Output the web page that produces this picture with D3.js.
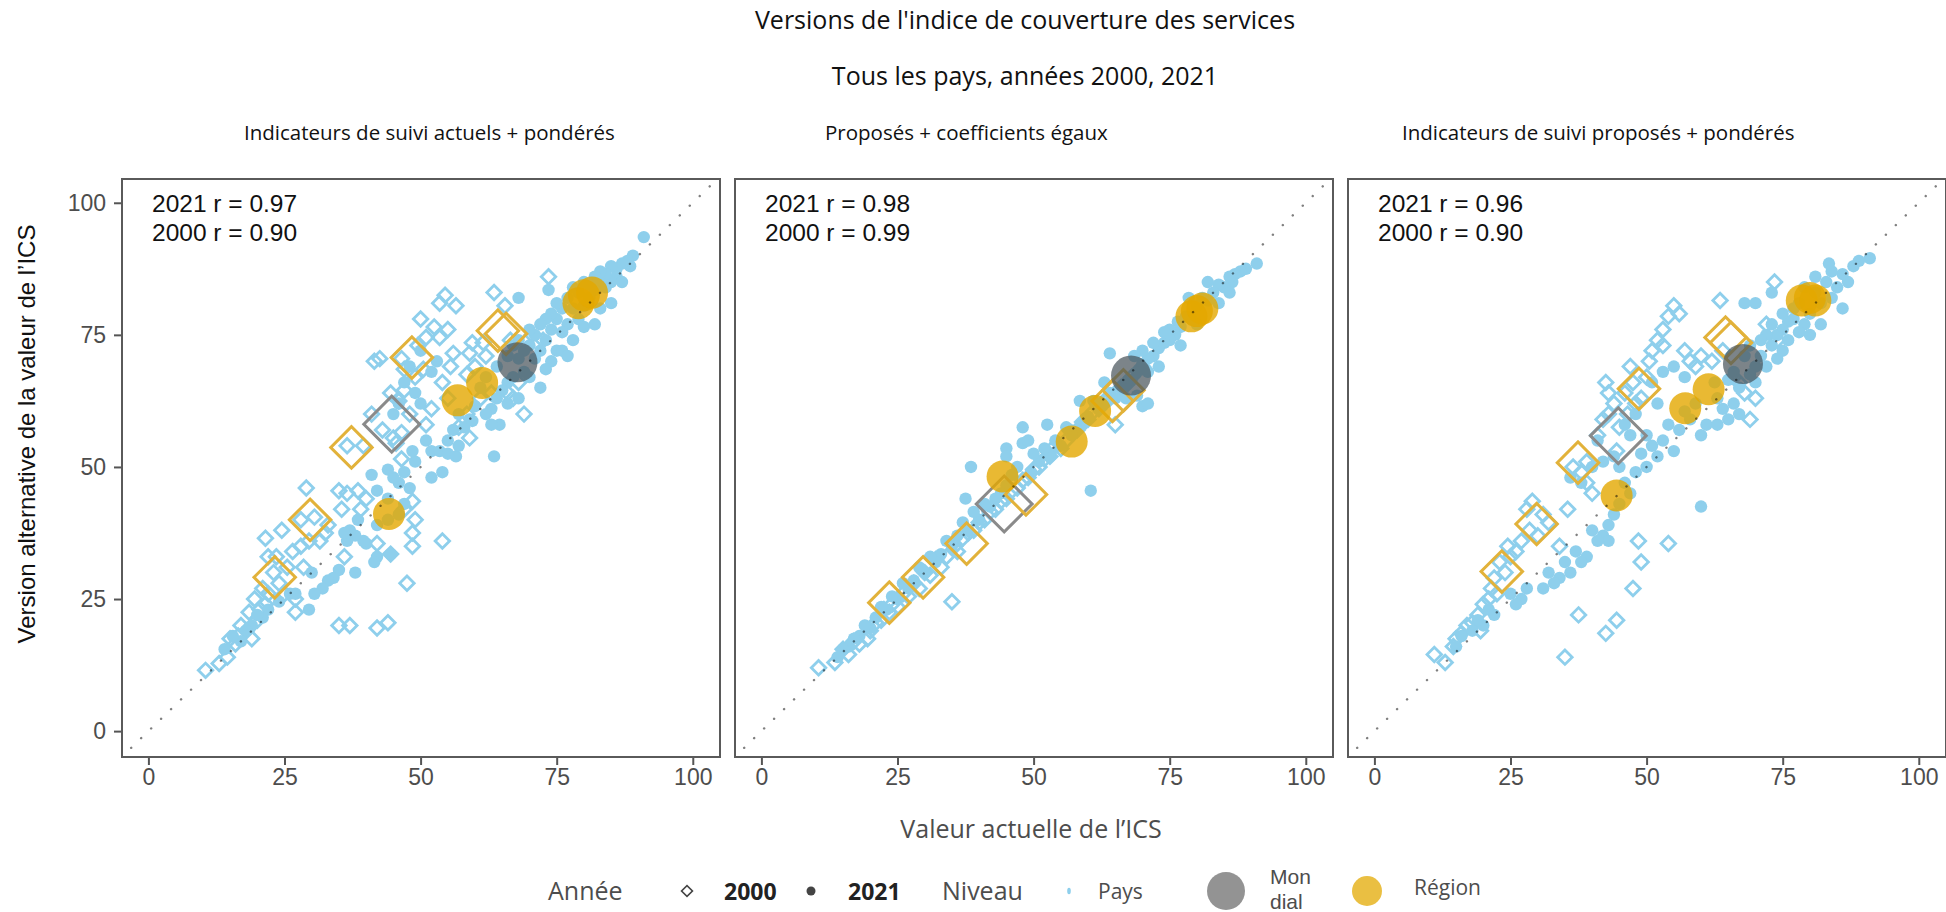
<!DOCTYPE html>
<html>
<head>
<meta charset="utf-8">
<script src="https://cdn.jsdelivr.net/npm/d3@7"></script>
<style>
  html, body { margin: 0; padding: 0; background: #fff; }
  svg { display: block; }
</style>
</head>
<body>
<svg id="chart" width="1946" height="912"></svg>
<script>
// ---- Data -------------------------------------------------------------
const panelTitles = [
  "Indicateurs de suivi actuels + pondérés",
  "Proposés + coefficients égaux",
  "Indicateurs de suivi proposés + pondérés"
];
const r2021 = ["0.97", "0.98", "0.96"];
const r2000 = ["0.90", "0.99", "0.90"];
const tickValues = [0, 25, 50, 75, 100];

// Panel 1 : indicateurs actuels + pondérés  — [valeur actuelle, version alternative]
const p1Pays2021 = [
  [91,93.5],[89,90],[88,89],[88.5,88],[87,88.5],[86,87.5],[86,86],[85,88],[85,85],[84,86.5],[84,84],[83,87],[83,85],
  [82,86],[82,83.5],[81,84.5],[81,82],[80,85],[80,80.5],[79,83],[79,78],[78,84],[78,80],[77,82],[77,77],[76,80],
  [76,75.5],[75,81],[75,78],[75,72],[74,79],[74,76],[74,70],[73,78],[73,74],[73,68.5],[72,77],[72,72],[71,75],
  [71,70.5],[70,76],[70,73],[69,72],[69,68],[68,74],[68,70.5],[67,73],[67,67],[66,71],[66,66],[65,64.5],[64,69],
  [64,63],[63,61],[62,67],[62,60],[61,65],[60,61.5],[59,59],[58,57.5],[57,60],[78,74],[80,76.5],[82,77],[83,80],
  [85,81],[87,85],[76,72],[77,71],[70,67],[72,65],[66,62],[68,63],[68,82],[73.5,83.5],
  [64.5,58],[63,58],[59.5,58.7],[56,57],[55,55],[54,49],[52,48],[51,55],[52,53],[53.5,53],[55,52.5],[56.5,52],
  [57,54],[63.5,52],[49,51],[48.5,53],[47,49],[46,47],[45,48],[44,49.5],[42,45.5],[41,48.5],[47,43],[48,46],[44,44],
  [47,66],[49,64],[50,62],[52,68],[53,70],[46,62],[45,60],[50,72],[48,69],
  [46,41],[44.5,33.5],[42,33],[41.5,32],[40,35.5],[39.5,36],[38,37],[37,38],[36.5,36],[36,37.5],[38,30],[35,30.5],
  [34,29],[33,28.5],[32,27],[30.5,26],[29.5,23],[30,30],[38.5,40],[42,39],[44,40],
  [24,24.5],[22,23],[21,21.5],[20,22],[19,20],[18,19],[17,17],[15.5,18],[14,15.5],[26,26],[27,26]
];
const p1Pays2000 = [
  [10.5,11.5],[13,12.8],[14.5,14],[15,17.5],[16,16.5],[16.5,18],[17,20],[18,19],[18.5,22.5],[19,17.5],[19.5,25],
  [20,21],[20.5,23],[21,27],[21.5,24],[21.5,36.5],[22,33],[22,26],[23,30],[23.5,33],[24,28],[24.5,38],[25,26],
  [25.5,31],[26.5,34],[27,25],[27,22.5],[28,35],[28,40],[28.5,31],[29,46],[29.5,36],[30.5,40.5],[31.5,36],
  [32.5,37.5],[33,39],[35,45.5],[35.5,42],[36,33],[36.5,45],[35,20],[37,20],[38.5,45.5],[39,42],[40,44],
  [42,35.5],[42,19.5],[44,20.5],[44.5,33.5],[36.5,54],[39.5,54],[47,42],[47.5,28],[48.5,35],[48.5,37.5],
  [49,40],[48.5,43.5],[54,36],
  [41,60],[42.5,70.5],[41.5,70],[43,57],[44.5,64],[45,55.5],[46,62.5],[46.5,56.5],[47,64.5],[46.5,51.5],
  [45.5,54.5],[48,60],[47,68.5],[46.5,70.5],[49,67],[49.5,73],[50.5,68.5],[50,78],[51,74.5],[52.5,76.5],
  [53.5,74.5],[53.5,81],[54.5,82.5],[55,76],[56.5,80.5],[54,66],[55.5,69],[56,71.5],[58.5,67.5],[59,71.5],
  [59.5,73.5],[61.5,73.5],[59,55.5],[57,57.5],[58.5,60],[55,63],[61,63],[63,64],[63.5,83],[65.5,80.5],[66,64],
  [67,63],[68,66],[69,60],[66.5,74],[62,71],[70.5,75],[72.5,74],[73.5,86],[60,69],[51,58],[52,61]
];
const p1Region2021 = [[79,81],[80,82.5],[81.5,83],[61.3,65.9],[56.8,62.6],[44.2,41.1]];
const p1Region2000 = [[64.2,75.8],[65.7,75.2],[48.4,70.7],[37.3,53.7],[29.7,40],[23.2,29.1]];
const p1Monde2021 = [[67.8,69.8]];
const p1Monde2000 = [[44.7,58.1]];

// Panel 2 : indicateurs proposés, coefficients égaux
const p2Pays2021 = [
  [91,88.5],[89,87.5],[88,87],[87,86.5],[86.5,85],[86,86],[85,84],[84,84.5],[83,83],[82,81.5],[81,82],[80,80.5],
  [79,78],[78.5,82],[78,78.5],[77,76.5],[76.5,77.5],[76,75],[75,76],[75,74],[74,73.5],[74,75.5],[73,72.5],[72,71],
  [72,73.5],[71,70.5],[70,69.5],[70,72],[69,68],[68.5,71],[68,66.5],[67,66],[66,65],[65,63],[64,71.5],[64,64],
  [63,62],[62,61],[61,62.5],[60,59.5],[60.5,45.5],[59,58],[58.5,62.5],[58,57],[57,56],[56,57.5],[55,54],[54,55],
  [53,52],[52.5,58],[52,53.5],[51,51],[50,52.5],[49.5,49],[48,57.5],[48,54.5],[47,50],[46,48.5],[45,53.5],
  [45,46.5],[44,45],[43,44],[42,42.5],[41,43],[40,40],[39,41.5],[38.5,50],[38,38],[37.5,44],[37,39.5],[36,37],
  [35,35],[34,36],[33,33.5],[32,32],[31,33],[30,30],[29,31],[28,28.5],[27,27],[26,28],[25,25],[24,25.5],[23,23],
  [22,23.5],[21,21.5],[20,19.5],[19,20],[18,18],[17,17.5],[16,16],[15,15.5],[14,14],[45,52],[49,55],[63,66],
  [67,63],[69,63.5],[71,68],[73,69],[77,73],[80,77],[82,85],[84,81],[86,83],[70,61.5],[71,62]
];
const p2Pays2000 = [
  [10.5,12],[13.5,13],[15,15.5],[16,14.5],[17,17],[18,16.5],[19.5,17.5],[20,19],[21,20.5],[22,21],[22.5,23],
  [23.5,22.5],[24,24],[25,23.5],[26,26],[27,25.5],[28,28],[29,27],[30,30],[31,29.5],[32,32.5],[33,31],[34,33],
  [35,24.5],[35.5,35],[36,34],[37,36.5],[38,37.5],[39,38],[40,39.5],[41,40],[42,41.5],[43,42],[44,43.5],[45,44],
  [46,45.5],[47,46],[48,47.5],[49,48],[50,49.5],[51,50],[52,51.5],[53,52],[54,54],[55,53.5],[56,55],[57,56.5],
  [58,57],[59,58.5],[60,59],[61,60.5],[62,61],[63,62.5],[64,63],[65,58],[66,65],[67,65.5],[68,67],[70,69]
];
const p2Region2021 = [[79,78.5],[80,79.5],[81,80],[61.3,60.6],[57,54.8],[44.3,48.2]];
const p2Region2000 = [[64.5,62.5],[66.5,64.5],[48.6,44.8],[37.7,35.5],[29.7,29.1],[23.5,24.3]];
const p2Monde2021 = [[67.9,67.3]];
const p2Monde2000 = [[44.6,43]];

// Panel 3 : indicateurs proposés + pondérés
const p3Pays2021 = [
  [91,89.5],[89,89],[88,88],[87,85],[86,86.5],[85,84],[84,87],[84,82],[83.5,88.5],[83,85],[82,81],[81,86],[81,83],
  [80,79],[79,84],[79,77],[78,81],[78,75.5],[77,80],[77,78],[76,77.5],[76,74],[75,79],[75,76],[75,72],[74,75],
  [74,70.5],[73,77],[73,73],[72,69],[72,75],[71,74],[71,71],[70,69],[70,66],[69,73],[69,67.5],[68,81],[68,71],
  [67,65],[66,68],[65,66.5],[64,61],[63,63],[62.5,66],[61,58],[60,56],[59,62],[58,59],[57,60.5],[56,57],[55,53],
  [54,58],[53,55],[52,52],[51,54],[50,50],[49,52.5],[48,49],[50,56],[52,62],[51,66],[53,68],[55,69],[57,67],
  [60,42.5],[63,58],[65,59],[67,60],[66,62],[80,75],[82,77],[86,80],[73,83],[70,81],
  [47,45],[46,47],[45,43],[44,41],[43,39],[42,37],[43,36],[41,36],[40,38],[39,33],[38,32],[37,34],[36,30],[35,32],
  [34,29],[33,28],[32,30],[31,27],[36,48],[38,47],[40,50],[42,51],[41,55],[44,52],[45,50],[47,56],[48,60],[46,58],
  [28,27],[27,25],[26,24],[25,26],[22,22],[21,23],[20,20],[19,21],[18,19],[16,18],[15,16]
];
const p3Pays2000 = [
  [11,14.5],[13,13],[14.5,16],[15,17.5],[16,18.5],[17,20],[18,20.5],[19,22],[19.5,19],[20,24],[21,25],[21.5,27],
  [22,29],[22.5,26],[23,32],[24,30],[24.5,35],[25,33],[26,34],[27,36],[28,42],[28.5,38],[29,43.5],[30,37],[31,41],
  [32,39.5],[34,35],[35,14],[35.5,42],[36.5,50],[37.5,22],[38,49],[39,47],[40,45],[42.5,18.5],[44.5,21],[47.5,27],
  [49,32],[48.5,36],[54,35.5],[41,56],[42,59],[42.5,66],[43,60],[44,62],[44.5,53],[45,57.5],[46,64],[46.5,60],
  [47,69],[47.5,66],[48,62],[49,63],[50,67],[50.5,70],[51,72],[52,74],[53,76],[54,78.5],[55,80.5],[56,79],[53,73],
  [57,72],[58,70],[59,69],[60,71],[62,70],[63.5,81.5],[64,72],[66,67],[67,66],[69,59],[68,64],[70,63],[73.5,85],
  [72,77],[74,74],[43,64],[39,51]
];
const p3Region2021 = [[78.5,81.5],[80,82],[81,81.5],[61.4,64.7],[57.1,61.1],[44.5,44.6]];
const p3Region2000 = [[64.5,74.5],[65.5,73.5],[48.6,64.8],[37.4,50.8],[29.8,39.2],[23.4,30.2]];
const p3Monde2021 = [[67.7,69.5]];
const p3Monde2000 = [[44.8,55.9]];

// ---- Layout --------------------------------------------------------------
const svg = d3.select("#chart");
const panelLefts = [122, 735, 1348];
const panelW = 598, panelTop = 179, panelBottom = 757;

const colPays = "#8ecfec";
const colRegion = "#E3A800";
const colMonde = "#4a545b";
const colMondeDiamond = "#8a8a8a";
const sans = "'Liberation Sans', Arial, sans-serif";
const open = "'Open Sans', 'Noto Sans', sans-serif";

const panels = [
  {pays21: p1Pays2021, pays00: p1Pays2000, reg21: p1Region2021, reg00: p1Region2000, mon21: p1Monde2021, mon00: p1Monde2000},
  {pays21: p2Pays2021, pays00: p2Pays2000, reg21: p2Region2021, reg00: p2Region2000, mon21: p2Monde2021, mon00: p2Monde2000},
  {pays21: p3Pays2021, pays00: p3Pays2000, reg21: p3Region2021, reg00: p3Region2000, mon21: p3Monde2021, mon00: p3Monde2000}
];

// Titles
svg.append("text").attr("x", 1025).attr("y", 29).attr("text-anchor", "middle")
  .attr("font-family", open).attr("font-size", 25).attr("fill", "#111")
  .text("Versions de l'indice de couverture des services");
svg.append("text").attr("x", 1025).attr("y", 85).attr("text-anchor", "middle")
  .attr("font-family", open).attr("font-size", 25).attr("fill", "#111")
  .text("Tous les pays, années 2000, 2021");

const titleX = [244, 825, 1402];
panelTitles.forEach((t, i) => {
  svg.append("text").attr("x", titleX[i]).attr("y", 140)
    .attr("font-family", open).attr("font-size", 20.5).attr("fill", "#111").text(t);
});

const diamond = (size) => d3.symbol(d3.symbolSquare, size)();

panels.forEach((p, i) => {
  const L = panelLefts[i];
  const x = d3.scaleLinear().domain([-4.85, 105]).range([L, L + panelW]);
  const y = d3.scaleLinear().domain([-4.9, 104.5]).range([panelBottom, panelTop]);

  const g = svg.append("g");
  const clipId = "clip" + i;
  g.append("clipPath").attr("id", clipId).append("rect")
    .attr("x", L).attr("y", panelTop).attr("width", panelW).attr("height", panelBottom - panelTop);
  const plot = g.append("g").attr("clip-path", `url(#${clipId})`);

  // countries 2000: open diamonds
  plot.append("g").selectAll("path").data(p.pays00).join("path")
    .attr("d", diamond(105))
    .attr("transform", d => `translate(${x(d[0])},${y(d[1])}) rotate(45)`)
    .attr("fill", "none").attr("stroke", colPays).attr("stroke-width", 2.8);

  // countries 2021: filled dots
  plot.append("g").selectAll("circle").data(p.pays21).join("circle")
    .attr("cx", d => x(d[0])).attr("cy", d => y(d[1])).attr("r", 6.2)
    .attr("fill", colPays);

  // world 2000
  plot.append("g").selectAll("path").data(p.mon00).join("path")
    .attr("d", diamond(1560))
    .attr("transform", d => `translate(${x(d[0])},${y(d[1])}) rotate(45)`)
    .attr("fill", "none").attr("stroke", colMondeDiamond).attr("stroke-width", 3);

  // regions 2000
  plot.append("g").selectAll("path").data(p.reg00).join("path")
    .attr("d", diamond(860))
    .attr("transform", d => `translate(${x(d[0])},${y(d[1])}) rotate(45)`)
    .attr("fill", "none").attr("stroke", "#E2B23A").attr("stroke-width", 3);

  // world 2021
  plot.append("g").selectAll("circle").data(p.mon21).join("circle")
    .attr("cx", d => x(d[0])).attr("cy", d => y(d[1])).attr("r", 20)
    .attr("fill", colMonde).attr("fill-opacity", 0.72);

  // regions 2021
  plot.append("g").selectAll("circle").data(p.reg21).join("circle")
    .attr("cx", d => x(d[0])).attr("cy", d => y(d[1])).attr("r", 16)
    .attr("fill", colRegion).attr("fill-opacity", 0.8);

  // identity line
  plot.append("line")
    .attr("x1", x(-5)).attr("y1", y(-5)).attr("x2", x(106)).attr("y2", y(106))
    .attr("stroke", "#000").attr("stroke-opacity", 0.5).attr("stroke-width", 2.4)
    .attr("stroke-linecap", "round").attr("stroke-dasharray", "0.1,13.8");

  // frame
  g.append("rect").attr("x", L).attr("y", panelTop).attr("width", panelW).attr("height", panelBottom - panelTop)
    .attr("fill", "none").attr("stroke", "#5a5a5a").attr("stroke-width", 2);

  // x axis
  const xa = g.append("g").attr("transform", `translate(0,${panelBottom + 1})`)
    .call(d3.axisBottom(x).tickValues(tickValues).tickSize(7).tickPadding(4));
  xa.select(".domain").remove();
  xa.selectAll(".tick line").attr("stroke", "#555").attr("stroke-width", 2);
  xa.selectAll(".tick text").attr("font-family", sans).attr("font-size", 23).attr("fill", "#4d4d4d");

  if (i === 0) {
    const ya = g.append("g").attr("transform", `translate(${L - 1},0)`)
      .call(d3.axisLeft(y).tickValues(tickValues).tickSize(7).tickPadding(8));
    ya.select(".domain").remove();
    ya.selectAll(".tick line").attr("stroke", "#555").attr("stroke-width", 2);
    ya.selectAll(".tick text").attr("font-family", sans).attr("font-size", 23).attr("fill", "#4d4d4d");
  }

  // correlation labels
  g.append("text").attr("x", L + 30).attr("y", 212)
    .attr("font-family", sans).attr("font-size", 24.5).attr("fill", "#111").text(`2021 r = ${r2021[i]}`);
  g.append("text").attr("x", L + 30).attr("y", 240.5)
    .attr("font-family", sans).attr("font-size", 24.5).attr("fill", "#111").text(`2000 r = ${r2000[i]}`);
});

// Axis titles
svg.append("text").attr("x", 1031).attr("y", 838).attr("text-anchor", "middle")
  .attr("font-family", open).attr("font-size", 25).attr("fill", "#4d4d4d")
  .text("Valeur actuelle de l’ICS");
svg.append("text").attr("transform", "translate(35,434) rotate(-90)").attr("text-anchor", "middle")
  .attr("font-family", sans).attr("font-size", 24).attr("fill", "#111")
  .text("Version alternative de la valeur de l’ICS");

// Legend
const lg = svg.append("g");
const ly = 891;
lg.append("text").attr("x", 548).attr("y", ly + 9).attr("font-family", open).attr("font-size", 25).attr("fill", "#4d4d4d").text("Année");
lg.append("path").attr("d", diamond(60)).attr("transform", `translate(687,${ly}) rotate(45)`)
  .attr("fill", "none").attr("stroke", "#444").attr("stroke-width", 1.6);
lg.append("text").attr("x", 724).attr("y", ly + 9).attr("font-family", open).attr("font-weight", 700).attr("font-size", 23).attr("fill", "#222").text("2000");
lg.append("circle").attr("cx", 811).attr("cy", ly).attr("r", 4.5).attr("fill", "#444");
lg.append("text").attr("x", 848).attr("y", ly + 9).attr("font-family", open).attr("font-weight", 700).attr("font-size", 23).attr("fill", "#222").text("2021");
lg.append("text").attr("x", 942).attr("y", ly + 9).attr("font-family", open).attr("font-size", 25).attr("fill", "#4d4d4d").text("Niveau");
lg.append("ellipse").attr("cx", 1069).attr("cy", ly).attr("rx", 1.8).attr("ry", 3.2).attr("fill", colPays);
lg.append("text").attr("x", 1098).attr("y", ly + 8).attr("font-family", open).attr("font-size", 21).attr("fill", "#4d4d4d").text("Pays");
lg.append("circle").attr("cx", 1226).attr("cy", ly).attr("r", 19).attr("fill", "#808080").attr("fill-opacity", 0.85);
lg.append("text").attr("x", 1270).attr("y", 884).attr("font-family", sans).attr("font-size", 21).attr("fill", "#4d4d4d").text("Mon");
lg.append("text").attr("x", 1270).attr("y", 909).attr("font-family", sans).attr("font-size", 21).attr("fill", "#4d4d4d").text("dial");
lg.append("circle").attr("cx", 1367).attr("cy", ly).attr("r", 15).attr("fill", "#E8B82E").attr("fill-opacity", 0.9);
lg.append("text").attr("x", 1414).attr("y", 895).attr("font-family", open).attr("font-size", 21).attr("fill", "#4d4d4d").text("Région");
</script>
</body>
</html>
